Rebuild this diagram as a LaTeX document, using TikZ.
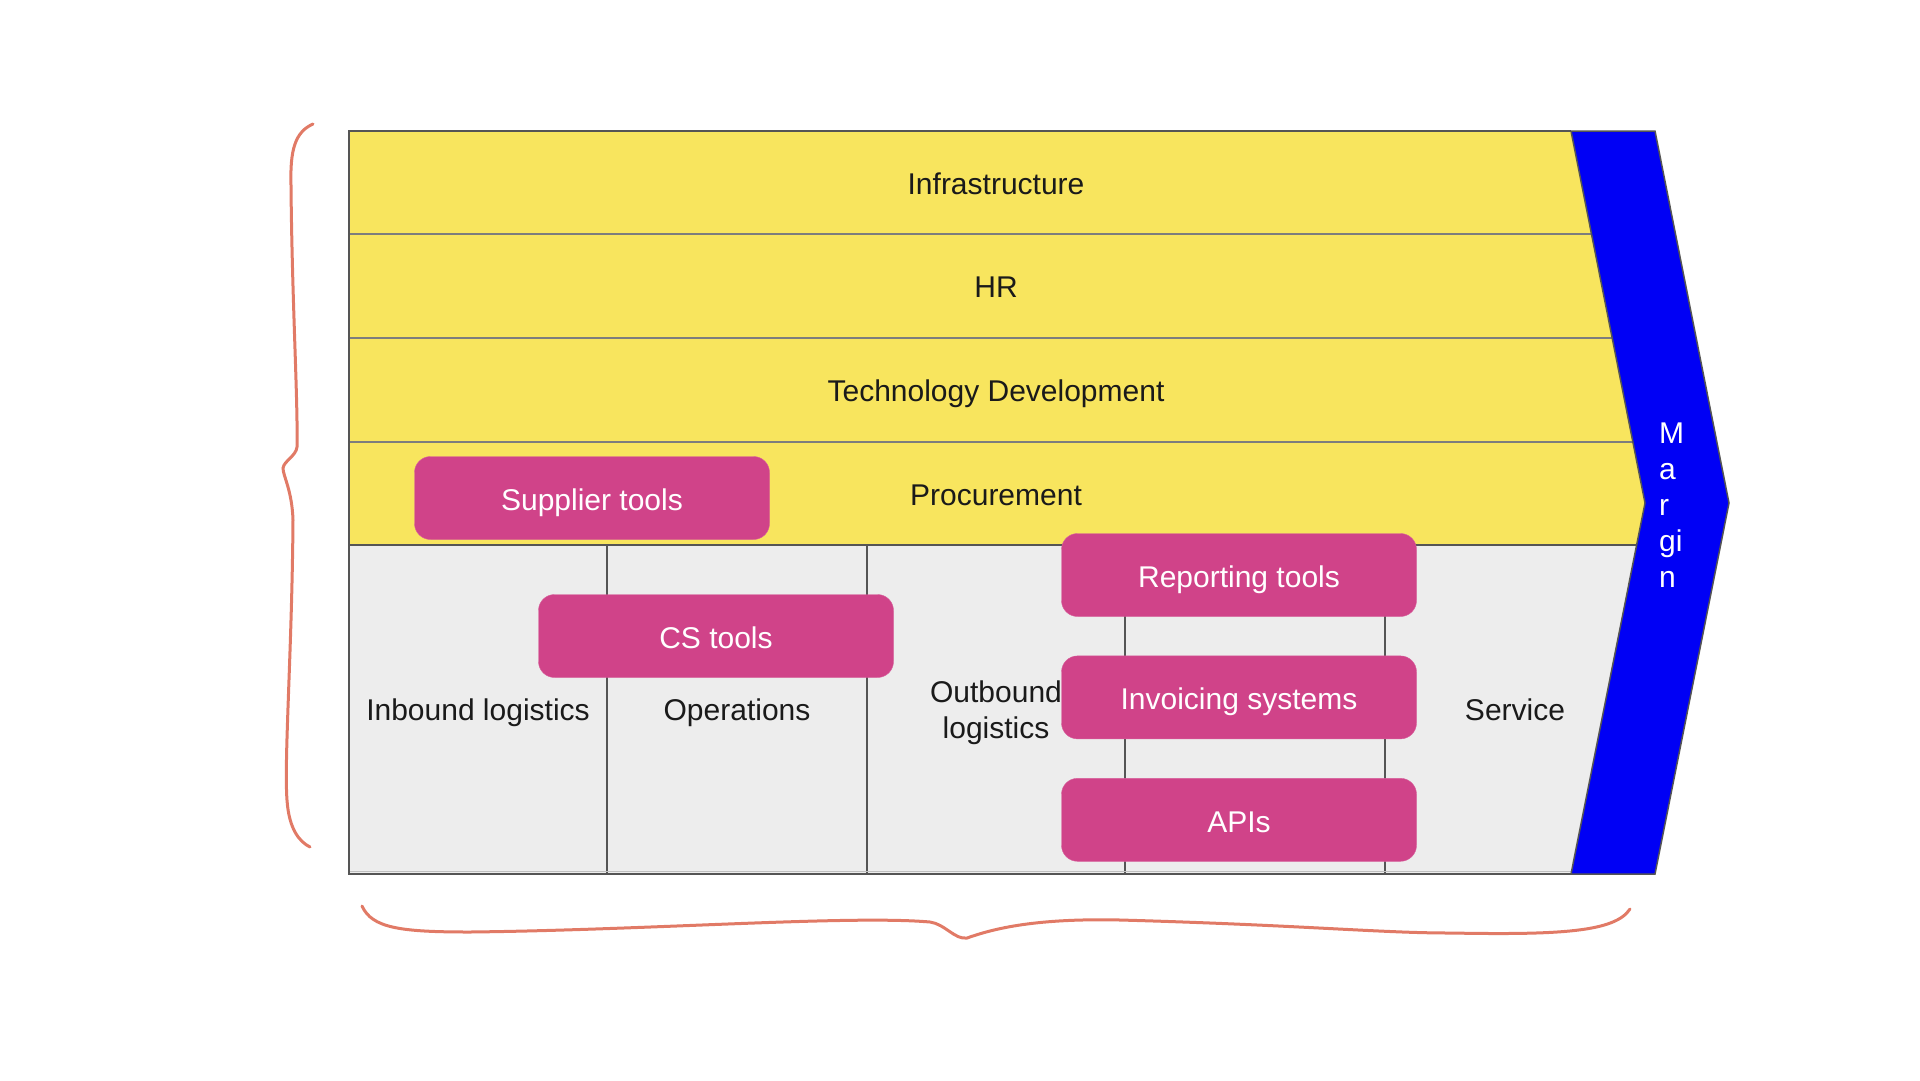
\documentclass[tikz,border=0pt]{standalone}
\usepackage{fontspec}
\setmainfont{Liberation Sans}
\usetikzlibrary{positioning,calc}
\definecolor{rowyellow}{RGB}{248,229,94}
\definecolor{cellgray}{RGB}{237,237,237}
\definecolor{toolpink}{RGB}{208,67,137}
\definecolor{marginblue}{RGB}{0,0,245}
\definecolor{bracered}{RGB}{225,122,102}
\definecolor{framegray}{RGB}{85,85,85}
\definecolor{linegray}{RGB}{125,125,125}
\definecolor{inkblack}{RGB}{26,26,26}
\tikzset{
  rowlabel/.style={font=\fontsize{30}{36}\selectfont,text=inkblack,inner sep=0pt,
    text height=21.6pt,text depth=0pt},
  twoline/.style={font=\fontsize{30}{36}\selectfont,text=inkblack,inner sep=0pt,align=center},
  margintext/.style={font=\fontsize{30}{36}\selectfont,text=white,align=left,anchor=west,inner sep=0pt},
  toolbox/.style={fill=toolpink,draw=toolpink!85!white,rounded corners=16pt,minimum width=355pt,
    minimum height=83pt,inner sep=0pt,text=white,font=\fontsize{30}{36}\selectfont,
    text height=25pt,text depth=0pt},
  rowline/.style={draw=linegray,line width=1.2pt},
  colline/.style={draw=framegray,line width=1.3pt},
  frameline/.style={draw=framegray,line width=2.5pt},
  brace/.style={draw=bracered,line width=3pt,line cap=round}
}
\begin{document}
\begin{tikzpicture}[x=1pt,y=-1pt]
  \useasboundingbox (0,0) rectangle (1920,1080);
  % outline of the chain
  \coordinate (tl) at (349,131);
  \coordinate (tr) at (1571,131);
  \coordinate (notch) at (1645,503);
  \coordinate (mid) at (1637,545);
  \coordinate (ml) at (349,545);
  \coordinate (bl) at (349,874);
  \coordinate (br) at (1571,874);
  \fill[rowyellow] (tl) -- (tr) -- (notch) -- (mid) -- (ml) -- cycle;
  \fill[cellgray] (ml) -- (mid) -- (br) -- (bl) -- cycle;
  \foreach \y/\x in {234/1592,338/1612,442/1633}
    \draw[rowline] (349,\y) -- (\x,\y);
  \foreach \x in {607,867,1125,1385}
    \draw[colline] (\x,545) -- (\x,874);
  \draw[draw=black!25,line width=1pt] (349,871) -- (1572,871);
  \draw[frameline] (tr) -- (tl) -- (bl) -- (br);
  \draw[frameline] (ml) -- (mid);
  % margin arrow
  \filldraw[fill=marginblue,draw=framegray,line width=1.5pt]
    (tr) -- (1655,131) -- (1729,503) -- (1655,874) -- (br) -- (notch) -- cycle;

  \node[rowlabel] (infra) at (996,184) {Infrastructure};
  \node[rowlabel] (hr) at (996,287) {HR};
  \node[rowlabel] (techdev) at (996,391) {Technology Development};
  \node[rowlabel] (procure) at (996,495) {Procurement};
  \node[rowlabel] (inbound) at (478,710) {Inbound logistics};
  \node[rowlabel] (ops) at (737,710) {Operations};
  \node[twoline] (outbound) at (996,713) {Outbound\\logistics};
  \node[rowlabel] (service) at (1515,710) {Service};
  \node[margintext] (margin) at (1659,505) {M\\a\\r\\gi\\n};

  \node[toolbox] (supplier) at (592,498) {Supplier tools};
  \node[toolbox] (cstools) at (716,636) {CS tools};
  \node[toolbox] (reporting) at (1239,575) {Reporting tools};
  \node[toolbox,below=39pt of reporting] (invoicing) {Invoicing systems};
  \node[toolbox,below=39pt of invoicing] (apis) {APIs};

  % braces
  \draw[brace] (313,124) .. controls (295,132) and (290,150) .. (291,185)
    .. controls (292,300) and (298,400) .. (297,447)
    .. controls (296,456) and (284,461) .. (283,468)
    .. controls (283,476) and (292,490) .. (293,520)
    .. controls (292,650) and (284,760) .. (287,800)
    .. controls (289,830) and (300,842) .. (310,847);
  \draw[brace] (362,906) .. controls (372,928) and (400,932) .. (470,932)
    .. controls (650,930) and (850,915) .. (930,922)
    .. controls (945,924) and (955,940) .. (967,938)
    .. controls (990,930) and (1030,918) .. (1120,920)
    .. controls (1300,925) and (1380,933) .. (1450,933)
    .. controls (1560,935) and (1615,932) .. (1630,909);
\end{tikzpicture}
\end{document}
